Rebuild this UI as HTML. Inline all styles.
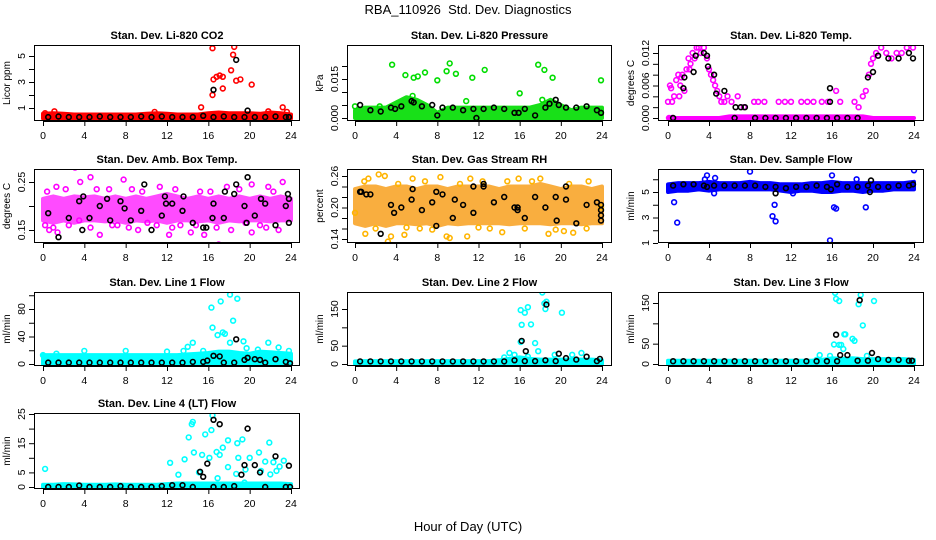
<!DOCTYPE html>
<html><head><meta charset="utf-8"><title>RBA_110926 Std. Dev. Diagnostics</title>
<style>
html,body{margin:0;padding:0;background:#fff;}
svg{display:block;font-family:"Liberation Sans",Arial,sans-serif;}
.ttl{font-size:11px;font-weight:bold;text-anchor:middle;}
.tk{font-size:10.5px;text-anchor:middle;}
.yl{font-size:10px;text-anchor:middle;}
</style></head>
<body>
<svg id="chart" width="936" height="540" viewBox="0 0 936 540" xmlns="http://www.w3.org/2000/svg">
<rect width="936" height="540" fill="#fff"/>
<text x="468" y="14" style="font-size:13px;text-anchor:middle">RBA_110926&#160; Std. Dev. Diagnostics</text>
<text x="468" y="531" style="font-size:13px;text-anchor:middle">Hour of Day (UTC)</text>
</svg>
<script>
const xTicks=[0,4,8,12,16,20,24];
const bandHours=[0,1,2,3,4,5,6,7,8,9,10,11,12,13,14,15,16,17,18,19,20,21,22,23,24];
const baseHours=[0.5,1.5,2.5,3.5,4.5,5.5,6.5,7.5,8.5,9.5,10.5,11.5,12.5,13.5,14.5,15.5,16.5,17.5,18.5,19.5,20.5,21.5,22.5,23.5];

// Panel 1: CO2
const co2Lo=[0.2,0.2,0.2,0.2,0.2,0.2,0.2,0.2,0.2,0.2,0.2,0.2,0.2,0.2,0.2,0.2,0.2,0.2,0.2,0.2,0.2,0.2,0.2,0.2,0.2];
const co2Hi=[0.55,0.6,0.55,0.5,0.5,0.5,0.5,0.5,0.5,0.5,0.55,0.6,0.55,0.5,0.5,0.5,0.6,0.65,0.6,0.6,0.6,0.55,0.65,0.6,0.5];
const co2Pts=[[16.4,5.6],[16.5,3.2],[16.8,3.4],[17.1,3.5],[17.4,3.4],[16.4,2.0],[17.4,2.5],[18.2,3.9],[18.4,5.1],[18.5,5.7],[18.7,3.1],[19.1,3.2],[20.2,2.8],[15.3,1.05],[23.2,1.05],[1.1,0.75],[21.8,0.75],[10.8,0.7],[23.6,0.7],[0.2,0.6]];
const co2Base=[0.3,0.35,0.3,0.3,0.3,0.35,0.3,0.3,0.3,0.35,0.3,0.35,0.3,0.3,0.3,0.4,0.3,0.35,0.3,0.3,0.3,0.3,0.35,0.3];
const co2Blk=[[16.5,2.4],[18.7,4.7],[19.8,0.8],[23.8,0.3]];

// Panel 2: Pressure
const prLo=[0,0,0,0,0,0,0,0,0,0,0,0,0,0,0,0,0,0,0,0,0,0,0,0,0];
const prHi=[0.003,0.004,0.004,0.004,0.006,0.008,0.007,0.005,0.002,0.004,0.004,0.004,0.004,0.004,0.004,0.004,0.004,0.004,0.005,0.007,0.005,0.003,0.004,0.004,0.004];
const prPts=[[3.6,0.0205],[4.9,0.0165],[5.7,0.0155],[6.1,0.016],[6.8,0.0175],[5.6,0.0085],[8,0.0145],[8.9,0.018],[9.2,0.021],[9.8,0.017],[10.8,0.0065],[11.4,0.0155],[12.6,0.0185],[16,0.0095],[17.8,0.0205],[18.4,0.0185],[19.2,0.0155],[23.9,0.0145],[18.2,0.007],[0,0.0045],[2.4,0.0045]];
const prBase=[0.005,0.003,0.0025,0.004,0.0045,0.0065,0.0045,0.005,0.004,0.004,0.003,0.0035,0.0035,0.004,0.0035,0.002,0.0035,0.001,0.004,0.007,0.004,0.004,0.0045,0.003];
const prBlk=[[8,0.001],[11.8,0],[15.9,0.002],[18.9,0.0055],[19.8,0.005],[23.9,0.002],[3.9,0.0035],[5.7,0.006]];

// Panel 3: Li-820 Temp
const tmLo=[0,0,0,0,0,0,0,0,0,0,0,0,0,0,0,0,0,0,0,0,0,0,0,0,0];
const tmHi=[0,0,0,0,0,0,0.0003,0.0003,0.0003,0.0003,0.0003,0.0003,0.0003,0.0003,0.0003,0.0003,0.0003,0.0003,0.0003,0.0003,0,0,0,0,0];
const tmPts=[[0,0.003],[0.2,0.006],[0.4,0.003],[0.6,0.004],[0.8,0.007],[1,0.008],[1.2,0.006],[1.4,0.008],[1.6,0.005],[1.8,0.009],[2,0.011],[2.2,0.01],[2.4,0.012],[2.6,0.011],[2.8,0.013],[3,0.013],[3.2,0.012],[3.5,0.013],[3.8,0.011],[4,0.009],[4.2,0.008],[4.4,0.007],[4.6,0.006],[4.8,0.005],[5,0.004],[5.2,0.003],[5.5,0.003],[5.8,0.004],[6.2,0.003],[6.8,0.004],[7.4,0.002],[8.4,0.003],[8.8,0.003],[9.4,0.003],[10.8,0.003],[11.4,0.003],[12,0.003],[13,0.003],[13.6,0.003],[14.2,0.003],[15,0.003],[15.6,0.003],[16.4,0.005],[16.8,0.003],[18.2,0.003],[18.6,0.002],[19,0.004],[19.3,0.005],[19.6,0.008],[19.8,0.01],[20,0.011],[20.3,0.012],[20.8,0.013],[21.3,0.012],[21.8,0.011],[22.3,0.012],[22.8,0.012],[23.3,0.013],[23.9,0.013],[0.1,0],[0.4,0],[1.3,0.0075],[2.1,0.009],[0.3,0.0055],[1.1,0.004]];
const tmBase=[0,0.0055,0.0085,0.012,0.008,0.005,0,0.002,0,0,0,0,0,0,0,0,0,0,0,0.0075,0.0115,0.011,0.011,0.012];
const tmBlk=[[3.8,0.0115],[3.9,0.0095],[4.7,0.0045],[6.6,0.002],[7.1,0.002],[15.8,0.0055],[15.8,0.003],[20,0.0085],[23.9,0.011],[1.6,0.0075],[2.7,0.0115]];

// Panel 4: Amb box temp
const abLo=[0.17,0.165,0.17,0.165,0.17,0.17,0.168,0.17,0.165,0.17,0.168,0.17,0.165,0.17,0.17,0.168,0.17,0.165,0.17,0.168,0.17,0.17,0.168,0.17,0.17];
const abHi=[0.215,0.22,0.215,0.22,0.218,0.22,0.215,0.22,0.215,0.22,0.215,0.22,0.225,0.22,0.215,0.22,0.215,0.22,0.215,0.22,0.215,0.22,0.215,0.22,0.215];
const abPts=[[3.1,0.28],[3.6,0.25],[4.6,0.26],[1.3,0.24],[7.8,0.255],[11.3,0.24],[17.8,0.24],[20.2,0.245],[21.8,0.24],[23.2,0.25],[0.2,0.16],[0.6,0.15],[1.4,0.145],[3.5,0.17],[5.5,0.14],[4.6,0.155],[8.3,0.155],[9.2,0.15],[12.2,0.14],[12.5,0.155],[14.3,0.145],[15.6,0.14],[17,0.12],[18.2,0.15],[19.6,0.165],[20.2,0.145],[21.6,0.155],[22.8,0.15],[2.5,0.16],[6.7,0.16],[10.1,0.165],[13.3,0.16],[16.8,0.155],[0.4,0.23],[2.2,0.235],[5.2,0.235],[6.4,0.235],[8.6,0.235],[9.6,0.23],[12.8,0.235],[15.2,0.23],[16.2,0.23],[19.0,0.235],[22.3,0.23],[1.0,0.155],[7.2,0.16],[11.0,0.16],[14.8,0.16],[21.0,0.16]];
const abBase=[0.185,0.135,0.175,0.21,0.175,0.2,0.17,0.21,0.17,0.19,0.15,0.18,0.205,0.19,0.165,0.155,0.205,0.175,0.225,0.2,0.18,0.205,0.16,0.2];
const abBlk=[[3.9,0.22],[3.8,0.15],[6.2,0.215],[7.9,0.195],[9.8,0.245],[11.8,0.22],[11.9,0.205],[13.6,0.22],[17.6,0.23],[18.7,0.245],[19.8,0.26],[19.7,0.165],[21.1,0.215],[23.7,0.225],[23.8,0.215],[23.8,0.165],[15.8,0.155],[16.4,0.175]];

// Panel 5: Gas stream RH
const rhLo=[0.17,0.165,0.17,0.165,0.17,0.17,0.168,0.17,0.165,0.17,0.168,0.17,0.17,0.17,0.17,0.168,0.17,0.17,0.17,0.168,0.17,0.17,0.168,0.17,0.17];
const rhHi=[0.235,0.24,0.24,0.235,0.24,0.24,0.235,0.24,0.24,0.235,0.24,0.24,0.24,0.24,0.235,0.24,0.24,0.24,0.245,0.24,0.235,0.24,0.24,0.235,0.24];
const rhPts=[[1.3,0.255],[2.3,0.263],[2.9,0.26],[5.6,0.255],[8.3,0.258],[11.2,0.255],[12.4,0.25],[15.9,0.255],[18,0.255],[22.7,0.25],[3.2,0.135],[3.5,0.145],[1,0.15],[4.8,0.148],[8.9,0.145],[9.2,0.142],[10.9,0.145],[14.3,0.153],[18.8,0.15],[20.3,0.155],[21.2,0.152],[0,0.19],[23.9,0.2],[6.3,0.16],[13.1,0.16],[0.9,0.25],[4.2,0.245],[6.8,0.25],[10.2,0.245],[14.8,0.25],[17.2,0.25],[20.8,0.245],[2.0,0.16],[5.0,0.162],[7.5,0.158],[12.0,0.162],[16.5,0.16],[19.5,0.158],[22.5,0.16]];
const rhBase=[0.23,0.225,0.15,0.205,0.2,0.215,0.195,0.21,0.225,0.18,0.205,0.19,0.24,0.21,0.22,0.2,0.18,0.22,0.2,0.22,0.215,0.17,0.205,0.21];
const rhBlk=[[0.6,0.23],[1.1,0.225],[3.8,0.19],[5.6,0.235],[7.9,0.165],[7.9,0.23],[9.7,0.215],[11.5,0.24],[12.5,0.245],[15.8,0.2],[15.8,0.195],[19.6,0.175],[20.5,0.24],[23.9,0.195],[23.9,0.175],[23.9,0.185],[23.9,0.205]];

// Panel 6: Sample flow
const sfLo=[5.0,5.1,5.1,5.2,5.1,5.2,5.2,5.2,5.2,5.2,5.2,5.1,5.0,5.1,5.1,5.0,5.0,5.1,5.1,5.0,5.1,5.1,5.2,5.2,5.2];
const sfHi=[5.6,5.7,5.7,5.7,5.8,5.7,5.7,5.7,5.8,5.7,5.7,5.6,5.6,5.6,5.7,5.7,5.8,5.7,5.7,5.7,5.7,5.7,5.7,5.7,5.8];
const sfPts=[[0.6,4.2],[0.9,2.6],[3.8,6.3],[4.6,6.1],[8,6.6],[10.2,3.1],[10.4,4.0],[10.5,2.7],[15.8,1.2],[16,6.3],[16.2,3.8],[16.4,3.7],[18.4,6.0],[19.3,3.8],[24,6.7],[3.6,6.0],[4.5,4.9],[12.2,4.9]];
const sfBase=[5.5,5.6,5.6,5.5,5.5,5.5,5.5,5.5,5.5,5.4,5.4,5.3,5.4,5.4,5.5,5.4,5.6,5.4,5.4,5.5,5.4,5.4,5.5,5.5];
const sfBlk=[[10.5,4.9],[15.9,5.2],[19.8,5.9],[19.7,5.0],[23.9,5.6],[3.8,5.4]];

// Panel 7: Line 1 flow
const l1Lo=[0,0,0,0,0,0,0,0,0,0,0,0,0,0,0,0,0,0,0,0,0,0,0,0,0];
const l1Hi=[13,13,13,13,13,13,13,13,13,13,13,13,13,13,14,15,16,18,18,16,15,18,17,16,15];
const l1Pts=[[4,19],[8,19],[12,18],[13.6,19],[14,25],[14.5,31],[15.5,19],[16.3,82],[16.4,53],[16.9,42],[17.2,91],[17.4,46],[17.6,44],[18.1,101],[18.4,63],[18.8,95],[18.1,31],[19.4,33],[19.7,23],[21.8,31],[22.8,24],[23.8,19],[0,13],[1.3,15],[20.8,21]];
const l1Base=[2,2,2,2,2,2,2,2,2,2,2,2,2,2,3,3,12,2,2,6,7,2,7,3];
const l1Blk=[[18.7,36],[17.1,11],[19.8,9],[21,6],[23.9,1],[15.9,5]];

// Panel 8: Line 2 flow
const l2Lo=[0,0,0,0,0,0,0,0,0,0,0,0,0,0,0,0,0,0,0,0,0,0,0,0,0];
const l2Hi=[7,8,8,8,8,8,8,8,8,8,8,8,8,8,10,14,18,14,12,12,12,12,12,12,10];
const l2Pts=[[15,30],[15.5,25],[16.1,60],[16.2,107],[16.1,147],[16.5,140],[16.8,155],[17.1,108],[17.5,57],[18.2,195],[18.4,165],[18.5,150],[18.6,170],[17.8,35],[20.1,140],[19.4,25],[21.1,25],[22,30],[14.5,18],[16.8,20]];
const l2Base=[7,7,7,7,7,7,7,7,7,7,7,7,7,7,7,10,8,8,10,8,16,12,20,8];
const l2Blk=[[16.2,63],[16.6,35],[18.6,162],[19.8,28],[23.8,14]];

// Panel 9: Line 3 flow
const l3Lo=[0,0,0,0,0,0,0,0,0,0,0,0,0,0,0,0,0,0,0,0,0,0,0,0,0];
const l3Hi=[8,8,8,8,8,8,8,8,8,8,8,8,8,8,8,10,14,12,14,12,12,12,12,12,10];
const l3Pts=[[14.8,22],[15.8,20],[16.2,48],[16.3,175],[16.4,160],[16.7,155],[16.7,47],[16.9,47],[17.1,37],[17.2,73],[17.3,73],[18,62],[18.2,57],[18.6,147],[18.8,170],[19,95],[20.1,155],[14.5,10],[19.4,20]];
const l3Base=[7,7,7,7,7,7,7,7,7,7,7,7,7,7,7,7,7,22,8,8,12,10,10,8];
const l3Blk=[[16.4,72],[16.8,22],[18.7,157],[19.9,27],[23.8,8]];

// Panel 10: Line 4 flow
const l4Lo=[0,0,0,0,0,0,0,0,0,0,0,0,0,0,0,0,0,0,0,0,0,0,0,0,0];
const l4Hi=[0.8,0.8,1,0.9,0.8,0.8,0.8,0.9,0.8,0.8,0.8,0.8,1,1.2,1.2,1.2,1.2,1.2,1.2,1.2,1.2,1.2,1.2,1.2,1];
const l4Pts=[[0.2,6.2],[12.3,8.3],[13.1,4.2],[13.7,9.5],[14.1,17],[14.4,21.5],[14.5,22.3],[14.6,11.8],[15.1,5],[15.4,11],[15.7,18],[16.1,10],[16.3,19.5],[16.4,24.5],[16.8,12],[16.9,3],[17.1,11],[17.4,13.5],[17.9,6.8],[17.9,16],[18.7,4.5],[18.8,15],[18.9,10],[19.3,16.3],[19.5,1.5],[19.6,6],[20,10],[20.9,11.8],[21.1,5.5],[21.5,8.7],[21.9,15.2],[22,4.3],[22.3,8.5],[22.6,5.5],[22.9,7],[23.3,9]];
const l4Base=[0,0,0,0.5,0,0,0,0.3,0,0,0,0.3,0.6,0.6,0,3.5,0,0,0.3,7.5,7.5,0,10.5,0];
const l4Blk=[[16.5,23],[17.1,21.5],[15.9,8],[15.2,5.2],[19.2,4.2],[19.8,20],[21,5],[23.8,7.3],[23.9,0]];

const svg=document.getElementById('chart');
const NS='http://www.w3.org/2000/svg';
function mk(tag,attrs,parent){const e=document.createElementNS(NS,tag);for(const k in attrs)e.setAttribute(k,attrs[k]);parent.appendChild(e);return e;}

const cols=[{l:34,r:300,x0:43,x24:291},{l:347,r:612,x0:355,x24:602},{l:658,r:924,x0:668,x24:914}];
const rows=[{t:45,b:121},{t:169,b:243},{t:292,b:366},{t:413,b:489}];

const panels=[
 {id:'co2',title:'Stan. Dev. Li-820 CO2',yl:'Licor ppm',c:0,r:0,color:'#ff0000',op:1,v0:0,p0:121,v1:5,p1:56,ticks:[1,2,3,4,5],labels:[1,3,5],fmt:v=>String(v),lo:co2Lo,hi:co2Hi,pts:co2Pts,base:co2Base,blk:co2Blk},
 {id:'pressure',title:'Stan. Dev. Li-820 Pressure',yl:'kPa',c:1,r:0,color:'#00dd00',op:0.9,v0:0,p0:118,v1:0.015,p1:79,ticks:[0,0.005,0.01,0.015,0.02],labels:[0,0.015],fmt:v=>v.toFixed(3),lo:prLo,hi:prHi,pts:prPts,base:prBase,blk:prBlk},
 {id:'temp',title:'Stan. Dev. Li-820 Temp.',yl:'degrees C',c:2,r:0,color:'#ff00ff',op:1,v0:0,p0:118,v1:0.012,p1:53,ticks:[0,0.002,0.004,0.006,0.008,0.01,0.012],labels:[0,0.006,0.012],fmt:v=>v.toFixed(3),lo:tmLo,hi:tmHi,pts:tmPts,base:tmBase,blk:tmBlk},
 {id:'ambbox',title:'Stan. Dev. Amb. Box Temp.',yl:'degrees C',c:0,r:1,color:'#ff00ff',op:0.7,v0:0.15,p0:230,v1:0.25,p1:182,ticks:[0.15,0.2,0.25],labels:[0.15,0.25],fmt:v=>v.toFixed(2),lo:abLo,hi:abHi,pts:abPts,base:abBase,blk:abBlk},
 {id:'rh',title:'Stan. Dev. Gas Stream RH',yl:'percent',c:1,r:1,color:'#f79400',op:0.75,v0:0.14,p0:239,v1:0.26,p1:176,ticks:[0.14,0.16,0.18,0.2,0.22,0.24,0.26],labels:[0.14,0.2,0.26],fmt:v=>v.toFixed(2),lo:rhLo,hi:rhHi,pts:rhPts,base:rhBase,blk:rhBlk,ptColor:'#ffb400'},
 {id:'sampleflow',title:'Stan. Dev. Sample Flow',yl:'ml/min',c:2,r:1,color:'#0000ff',op:1,v0:1,p0:243,v1:5,p1:192,ticks:[1,2,3,4,5,6],labels:[1,3,5],fmt:v=>String(v),lo:sfLo,hi:sfHi,pts:sfPts,base:sfBase,blk:sfBlk},
 {id:'line1',title:'Stan. Dev. Line 1 Flow',yl:'ml/min',c:0,r:2,color:'#00ffff',op:1,v0:0,p0:364,v1:80,p1:309,ticks:[0,20,40,60,80,100],labels:[0,40,80],fmt:v=>String(v),lo:l1Lo,hi:l1Hi,pts:l1Pts,base:l1Base,blk:l1Blk},
 {id:'line2',title:'Stan. Dev. Line 2 Flow',yl:'ml/min',c:1,r:2,color:'#00ffff',op:1,v0:0,p0:364,v1:150,p1:309,ticks:[0,50,100,150],labels:[0,50,150],fmt:v=>String(v),lo:l2Lo,hi:l2Hi,pts:l2Pts,base:l2Base,blk:l2Blk},
 {id:'line3',title:'Stan. Dev. Line 3 Flow',yl:'ml/min',c:2,r:2,color:'#00ffff',op:1,v0:0,p0:364,v1:150,p1:303,ticks:[0,50,100,150],labels:[0,50,150],fmt:v=>String(v),lo:l3Lo,hi:l3Hi,pts:l3Pts,base:l3Base,blk:l3Blk},
 {id:'line4',title:'Stan. Dev. Line 4 (LT) Flow',yl:'ml/min',c:0,r:3,color:'#00ffff',op:1,v0:0,p0:487,v1:25,p1:414,ticks:[0,5,10,15,20,25],labels:[0,5,15,25],fmt:v=>String(v),lo:l4Lo,hi:l4Hi,pts:l4Pts,base:l4Base,blk:l4Blk}
];

panels.forEach(p=>{
  const C=cols[p.c],R=rows[p.r];
  const xs=h=>C.x0+(C.x24-C.x0)*h/24;
  const ys=v=>p.p0+(p.p1-p.p0)*(v-p.v0)/(p.v1-p.v0);
  const g=mk('g',{},svg);
  
  
  const clip=mk('clipPath',{id:'clip-'+p.id},g);
  mk('rect',{x:C.l,y:R.t,width:C.r-C.l,height:R.b-R.t},clip);
  const plot=mk('g',{'clip-path':'url(#clip-'+p.id+')'},g);
  
  
  let d='';
  bandHours.forEach((h,i)=>{d+=(i?'L':'M')+xs(h).toFixed(1)+' '+ys(p.hi[i]).toFixed(1);});
  for(let i=bandHours.length-1;i>=0;i--) d+='L'+xs(bandHours[i]).toFixed(1)+' '+ys(p.lo[i]).toFixed(1);
  d+='Z';
  const band=mk('path',{d:d,fill:p.color,stroke:p.color,'stroke-width':4,'stroke-linejoin':'round',opacity:p.op},plot);
  
  
  p.pts.forEach(pt=>{
    const c=mk('circle',{cx:xs(pt[0]).toFixed(1),cy:ys(pt[1]).toFixed(1),r:2.4,fill:'none',stroke:p.ptColor||p.color,'stroke-width':1.6},plot);
    
    
  });
  p.base.forEach((v,i)=>{
    const c=mk('circle',{cx:xs(baseHours[i]).toFixed(1),cy:ys(v).toFixed(1),r:2.4,fill:'none',stroke:'#000','stroke-width':1.6},plot);
    
    
  });
  p.blk.forEach(pt=>{
    const c=mk('circle',{cx:xs(pt[0]).toFixed(1),cy:ys(pt[1]).toFixed(1),r:2.4,fill:'none',stroke:'#000','stroke-width':1.6},plot);
    
    
  });
  const box=mk('rect',{x:C.l+0.5,y:R.t+0.5,width:C.r-C.l-1,height:R.b-R.t-1,fill:'none',stroke:'#000','stroke-width':1},g);
  
  
  const t=mk('text',{x:(C.l+C.r)/2,y:R.t-6,class:'ttl'},g);
  t.textContent=p.title;
  
  
  const xa=mk('g',{},g);
  
  
  mk('line',{x1:xs(0),x2:xs(24),y1:R.b+0.5,y2:R.b+0.5,stroke:'#000'},xa);
  xTicks.forEach(h=>{
    mk('line',{x1:xs(h)+0.5,x2:xs(h)+0.5,y1:R.b,y2:R.b+5,stroke:'#000'},xa);
    const tx=mk('text',{x:xs(h),y:R.b+18,class:'tk'},xa);
    tx.textContent=String(h);
    
    
  });
  const ya=mk('g',{},g);
  
  
  const tmin=p.ticks[0],tmax=p.ticks[p.ticks.length-1];
  mk('line',{x1:C.l+0.5,x2:C.l+0.5,y1:ys(tmin),y2:ys(tmax),stroke:'#000'},ya);
  p.ticks.forEach(v=>{
    mk('line',{x1:C.l-5,x2:C.l,y1:ys(v)+0.5,y2:ys(v)+0.5,stroke:'#000'},ya);
  });
  p.labels.forEach(v=>{
    const yy=ys(v), xx=C.l-9;
    const tx=mk('text',{x:xx,y:yy,class:'tk',transform:'rotate(-90 '+xx+' '+yy+')'},ya);
    tx.textContent=p.fmt(v);
    
    
  });
  const yx=C.l-24, yy=(R.t+R.b)/2;
  const yl=mk('text',{x:yx,y:yy,class:'yl',transform:'rotate(-90 '+yx+' '+yy+')'},g);
  yl.textContent=p.yl;
  
  
});
</script>
</body></html>
